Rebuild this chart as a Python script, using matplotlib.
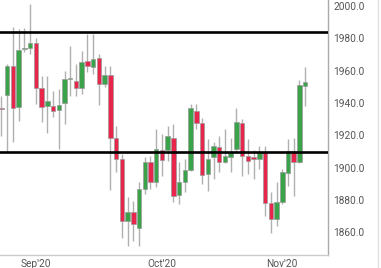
import numpy as np
import matplotlib
matplotlib.use("Agg")
import matplotlib.pyplot as plt
from matplotlib.lines import Line2D

# daily OHLC (Aug-Nov 2020)
opens = [1936.5, 1944.9, 1963.0, 1937.2, 1973.5, 1974.0, 1976.9, 1949.0, 1937.9, 1937.9,
         1935.8, 1939.7, 1954.8, 1953.7, 1949.0, 1966.1, 1962.0, 1967.6, 1951.7, 1957.2,
         1918.6, 1905.2, 1867.0, 1872.5, 1862.9, 1886.6, 1903.2, 1891.2, 1910.8, 1910.8,
         1918.0, 1882.9, 1890.8, 1898.6, 1935.1, 1927.3, 1895.9, 1906.3, 1912.8, 1903.5,
         1906.6, 1911.8, 1927.3, 1907.3, 1906.3, 1905.2, 1909.4, 1878.1, 1868.0, 1878.4,
         1896.5, 1910.3, 1903.5, 1950.2]
highs = [1944.0, 1964.1, 1986.8, 1985.7, 1986.4, 2001.0, 1980.0, 1956.8, 1956.8, 1947.5,
         1948.6, 1959.9, 1975.4, 1964.0, 1972.3, 1982.7, 1982.7, 1970.3, 1963.0, 1963.0,
         1925.8, 1908.3, 1881.5, 1879.4, 1890.8, 1906.3, 1907.3, 1923.8, 1920.7, 1925.5,
         1926.9, 1903.2, 1905.2, 1939.3, 1939.3, 1930.4, 1917.6, 1915.6, 1919.3, 1923.8,
         1918.0, 1936.6, 1930.0, 1917.6, 1911.0, 1913.4, 1913.4, 1884.6, 1891.2, 1899.0,
         1917.6, 1918.6, 1954.3, 1962.0]
lows = [1919.5, 1908.9, 1915.6, 1928.9, 1971.5, 1970.3, 1939.3, 1927.9, 1921.7, 1931.0,
        1911.8, 1926.9, 1944.2, 1944.4, 1945.5, 1958.9, 1957.9, 1938.7, 1950.0, 1886.2,
        1897.0, 1856.7, 1851.5, 1854.6, 1851.5, 1883.5, 1886.6, 1887.7, 1894.9, 1904.2,
        1878.7, 1877.3, 1884.6, 1898.0, 1923.8, 1889.7, 1885.6, 1893.2, 1897.3, 1902.7,
        1897.3, 1909.4, 1894.9, 1895.9, 1893.2, 1899.0, 1870.1, 1859.8, 1863.9, 1877.5,
        1888.7, 1882.5, 1902.7, 1937.9]
closes = [1936.0, 1963.0, 1936.6, 1972.9, 1974.2, 1976.9, 1949.0, 1937.2, 1941.3, 1935.1,
          1938.8, 1954.8, 1955.5, 1949.0, 1965.1, 1962.6, 1967.2, 1951.7, 1957.2, 1918.0,
          1905.2, 1867.0, 1872.5, 1864.9, 1886.6, 1903.2, 1891.2, 1911.8, 1904.6, 1919.3,
          1882.5, 1890.8, 1898.6, 1936.6, 1927.5, 1895.3, 1905.6, 1913.4, 1903.5, 1907.3,
          1908.9, 1927.9, 1907.3, 1904.2, 1905.2, 1909.4, 1878.1, 1868.0, 1878.7, 1897.0,
          1910.3, 1903.5, 1951.1, 1952.7]

levels = [1983.9, 1909.5]
month_pos = [6, 28, 49]
month_labels = ["Sep'20", "Oct'20", "Nov'20"]
yticks = [1860, 1880, 1900, 1920, 1940, 1960, 1980, 2000]

plt.rcParams['font.family'] = ['Roboto', 'DejaVu Sans']

fig = plt.figure(figsize=(3.81, 2.68), dpi=100)
ax = fig.add_axes([0, 255 / 268 * 0 + 13 / 268, 328 / 381, 255 / 268])

o = np.array(opens)
c = np.array(closes)
x = np.arange(len(o))
up = c >= o
cols = np.where(up, '#3aa34a', '#e8254a')

ax.vlines(x, lows, highs, color='#b0b0b0', linewidth=1, zorder=1)
bottom = np.minimum(o, c)
height = np.maximum(np.abs(c - o), 0.6)
ax.bar(x, height, bottom=bottom, width=0.78, color=cols,
       edgecolor='#9a9a9a', linewidth=0.5, zorder=2)

for lv in levels:
    ax.axhline(lv, color='black', linewidth=1.9, zorder=3)

ax.set_xlim(-0.26, 56.98)
ax.set_ylim(1845.9, 2003.7)

ax.yaxis.tick_right()
ax.set_yticks(yticks)
ax.set_yticklabels([f"{v:.1f}" for v in yticks])
ax.set_xticks(month_pos)
ax.set_xticklabels(month_labels)
ax.tick_params(axis='both', length=0, labelsize=7.3, labelcolor='#555555')
ax.tick_params(axis='y', pad=4)
ax.tick_params(axis='x', pad=3)

for s in ['top', 'left']:
    ax.spines[s].set_visible(False)
ax.spines['right'].set_color('#aaaaaa')
ax.spines['bottom'].set_color('#cccccc')
ax.spines['right'].set_linewidth(1)
ax.spines['bottom'].set_linewidth(1)

fig.add_artist(Line2D([378 / 381, 378 / 381], [0, 1], color='#e0e0e0', linewidth=1))

fig.savefig('out.png', dpi=100)
